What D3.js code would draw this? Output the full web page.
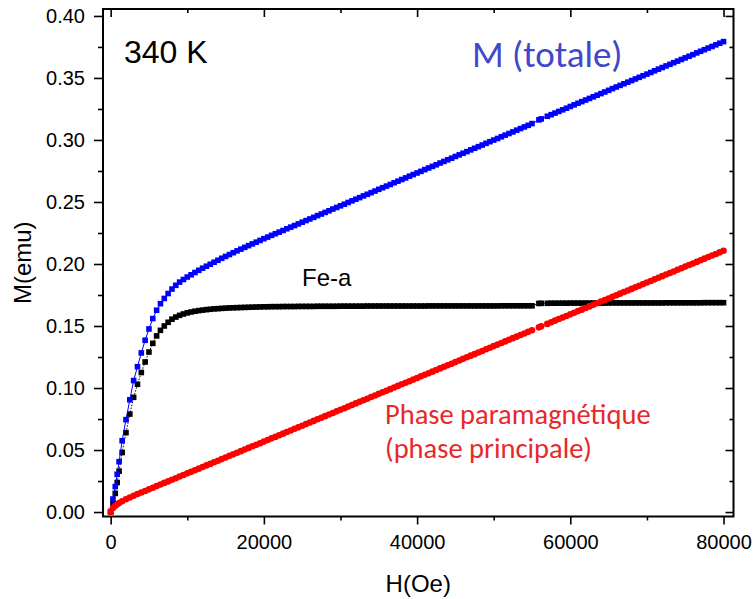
<!DOCTYPE html>
<html>
<head>
<meta charset="utf-8">
<script src="https://cdn.jsdelivr.net/npm/d3@7"></script>
<style>
body { margin: 0; background: #fff; }
</style>
</head>
<body>
<svg id="chart" width="753" height="599" viewBox="0 0 753 599"></svg>
<script>
// champ appliqué (Oe)
var fieldOe = [
	0, 300, 600, 850, 1100,
	1500, 2000, 2500, 3000, 3500, 4000, 4500, 5000, 5500, 6000, 6500, 7000, 7500, 8000, 8500, 9000, 9500,
	10000, 10500, 11000, 11500, 12000, 12500, 13000, 13500, 14000, 14500, 15000, 15500, 16000, 16500, 17000, 17500, 18000, 18500, 19000, 19500,
	20000, 20500, 21000, 21500, 22000, 22500, 23000, 23500, 24000, 24500, 25000, 25500, 26000, 26500, 27000, 27500, 28000, 28500, 29000, 29500,
	30000, 30500, 31000, 31500, 32000, 32500, 33000, 33500, 34000, 34500, 35000, 35500, 36000, 36500, 37000, 37500, 38000, 38500, 39000, 39500,
	40000, 40500, 41000, 41500, 42000, 42500, 43000, 43500, 44000, 44500, 45000, 45500, 46000, 46500, 47000, 47500, 48000, 48500, 49000, 49500,
	50000, 50500, 51000, 51500, 52000, 52500, 53000, 53500, 54000, 54500, 55000,
	55900, 56200,
	57000, 57500, 58000, 58500, 59000, 59500,
	60000, 60500, 61000, 61500, 62000, 62500, 63000, 63500, 64000, 64500, 65000, 65500, 66000, 66500, 67000, 67500, 68000, 68500, 69000, 69500,
	70000, 70500, 71000, 71500, 72000, 72500, 73000, 73500, 74000, 74500, 75000, 75500, 76000, 76500, 77000, 77500, 78000, 78500, 79000, 79500,
	80000
];

// M (totale)
var mTotale = [
	0.0005, 0.0105, 0.0205, 0.0304, 0.0406,
	0.0575, 0.0745, 0.0905, 0.1060, 0.1172, 0.1283, 0.1385, 0.1476, 0.1560, 0.1627, 0.1680, 0.1722, 0.1762, 0.1798, 0.1828, 0.1854, 0.1875,
	0.1895, 0.1913, 0.1931, 0.1949, 0.1966, 0.1982, 0.1998, 0.2014, 0.2030, 0.2046, 0.2061, 0.2076, 0.2091, 0.2106, 0.2120, 0.2134, 0.2148, 0.2162, 0.2176, 0.2190,
	0.2204, 0.2217, 0.2231, 0.2244, 0.2257, 0.2270, 0.2284, 0.2297, 0.2310, 0.2323, 0.2337, 0.2350, 0.2363, 0.2376, 0.2390, 0.2403, 0.2416, 0.2429, 0.2443, 0.2456,
	0.2469, 0.2482, 0.2496, 0.2509, 0.2522, 0.2535, 0.2549, 0.2562, 0.2575, 0.2588, 0.2602, 0.2615, 0.2628, 0.2641, 0.2655, 0.2668, 0.2681, 0.2694, 0.2708, 0.2721,
	0.2734, 0.2747, 0.2761, 0.2774, 0.2787, 0.2800, 0.2814, 0.2827, 0.2840, 0.2853, 0.2867, 0.2880, 0.2893, 0.2906, 0.2920, 0.2933, 0.2946, 0.2959, 0.2973, 0.2986,
	0.2999, 0.3012, 0.3026, 0.3039, 0.3052, 0.3065, 0.3079, 0.3092, 0.3105, 0.3118, 0.3132,
	0.3162, 0.3170,
	0.3191, 0.3204, 0.3217, 0.3230, 0.3243, 0.3256,
	0.3270, 0.3283, 0.3296, 0.3309, 0.3322, 0.3335, 0.3348, 0.3361, 0.3374, 0.3387, 0.3400, 0.3414, 0.3427, 0.3440, 0.3453, 0.3466, 0.3479, 0.3492, 0.3505, 0.3518,
	0.3531, 0.3544, 0.3558, 0.3571, 0.3584, 0.3597, 0.3610, 0.3623, 0.3636, 0.3649, 0.3662, 0.3675, 0.3688, 0.3702, 0.3715, 0.3728, 0.3741, 0.3754, 0.3767, 0.3780,
	0.3793
];

// Fe-a
var mFeA = [
	0.0000, 0.0072, 0.0150, 0.0238, 0.0330,
	0.0480, 0.0640, 0.0790, 0.0925, 0.1030, 0.1125, 0.1210, 0.1290, 0.1360, 0.1420, 0.1465, 0.1500, 0.1530, 0.1555, 0.1572, 0.1586, 0.1597,
	0.1606, 0.1613, 0.1619, 0.1624, 0.1628, 0.1632, 0.1635, 0.1638, 0.1640, 0.1642, 0.1644, 0.1646, 0.1647, 0.1648, 0.1649, 0.1650, 0.1651, 0.1652, 0.1653, 0.1654,
	0.1655, 0.1655, 0.1656, 0.1656, 0.1656, 0.1657, 0.1657, 0.1657, 0.1657, 0.1658, 0.1658, 0.1658, 0.1658, 0.1658, 0.1659, 0.1659, 0.1659, 0.1659, 0.1659, 0.1659,
	0.1660, 0.1660, 0.1660, 0.1660, 0.1660, 0.1660, 0.1660, 0.1661, 0.1661, 0.1661, 0.1661, 0.1661, 0.1661, 0.1661, 0.1661, 0.1661, 0.1661, 0.1661, 0.1661, 0.1661,
	0.1661, 0.1661, 0.1661, 0.1662, 0.1662, 0.1662, 0.1662, 0.1662, 0.1662, 0.1662, 0.1662, 0.1662, 0.1662, 0.1662, 0.1662, 0.1662, 0.1662, 0.1662, 0.1662, 0.1662,
	0.1662, 0.1662, 0.1663, 0.1663, 0.1663, 0.1663, 0.1663, 0.1663, 0.1663, 0.1663, 0.1663,
	0.1682, 0.1683,
	0.1683, 0.1684, 0.1684, 0.1684, 0.1684, 0.1684,
	0.1685, 0.1685, 0.1685, 0.1685, 0.1685, 0.1685, 0.1685, 0.1685, 0.1685, 0.1685, 0.1686, 0.1686, 0.1686, 0.1686, 0.1686, 0.1686, 0.1686, 0.1686, 0.1686, 0.1686,
	0.1686, 0.1686, 0.1686, 0.1686, 0.1686, 0.1687, 0.1687, 0.1687, 0.1687, 0.1687, 0.1687, 0.1687, 0.1687, 0.1687, 0.1687, 0.1688, 0.1688, 0.1688, 0.1688, 0.1688,
	0.1688
];

// phase paramagnétique
var mPara = [
	0.0000, 0.0033, 0.0051, 0.0063, 0.0073,
	0.0087, 0.0103, 0.0117, 0.0131, 0.0145, 0.0158, 0.0170, 0.0183, 0.0196, 0.0209, 0.0222, 0.0235, 0.0247, 0.0260, 0.0273, 0.0286, 0.0299,
	0.0312, 0.0324, 0.0337, 0.0350, 0.0363, 0.0376, 0.0388, 0.0401, 0.0414, 0.0427, 0.0440, 0.0453, 0.0465, 0.0478, 0.0491, 0.0504, 0.0517, 0.0530, 0.0542, 0.0555,
	0.0568, 0.0581, 0.0594, 0.0606, 0.0619, 0.0632, 0.0645, 0.0658, 0.0671, 0.0683, 0.0696, 0.0709, 0.0722, 0.0735, 0.0748, 0.0760, 0.0773, 0.0786, 0.0799, 0.0812,
	0.0825, 0.0837, 0.0850, 0.0863, 0.0876, 0.0889, 0.0901, 0.0914, 0.0927, 0.0940, 0.0953, 0.0966, 0.0978, 0.0991, 0.1004, 0.1017, 0.1030, 0.1043, 0.1055, 0.1068,
	0.1081, 0.1094, 0.1107, 0.1119, 0.1132, 0.1145, 0.1158, 0.1171, 0.1184, 0.1196, 0.1209, 0.1222, 0.1235, 0.1248, 0.1261, 0.1273, 0.1286, 0.1299, 0.1312, 0.1325,
	0.1338, 0.1350, 0.1363, 0.1376, 0.1389, 0.1402, 0.1414, 0.1427, 0.1440, 0.1453, 0.1466,
	0.1489, 0.1497,
	0.1517, 0.1530, 0.1543, 0.1556, 0.1568, 0.1581,
	0.1594, 0.1607, 0.1620, 0.1632, 0.1645, 0.1658, 0.1671, 0.1684, 0.1697, 0.1709, 0.1722, 0.1735, 0.1748, 0.1761, 0.1774, 0.1786, 0.1799, 0.1812, 0.1825, 0.1838,
	0.1851, 0.1863, 0.1876, 0.1889, 0.1902, 0.1915, 0.1927, 0.1940, 0.1953, 0.1966, 0.1979, 0.1992, 0.2004, 0.2017, 0.2030, 0.2043, 0.2056, 0.2069, 0.2081, 0.2094,
	0.2107
];

var xTicks = [0, 20000, 40000, 60000, 80000];
var xMinorTicks = [10000, 30000, 50000, 70000];
var yTicks = [0, 0.05, 0.10, 0.15, 0.20, 0.25, 0.30, 0.35, 0.40];
var yMinorTicks = [0.025, 0.075, 0.125, 0.175, 0.225, 0.275, 0.325, 0.375];

var svg = d3.select("#chart");
var plotLeft = 103, plotRight = 733.5, plotTop = 9, plotBottom = 516.5;

var xScale = d3.scaleLinear().domain([-1000, 81300]).range([plotLeft, plotRight]);
var yScale = d3.scaleLinear().domain([-0.0036, 0.4056]).range([plotBottom, plotTop]);

function pts(ys) {
	return fieldOe.map(function (h, i) { return [h, ys[i]]; });
}
var totale = pts(mTotale), feA = pts(mFeA), para = pts(mPara);

var axisFont = "'Liberation Sans', Arial, sans-serif";
var labelFont = "Carlito, Calibri, Lato, sans-serif";

function styleAxis(g) {
	g.select(".domain").remove();
	g.selectAll("line").attr("stroke", "#000").attr("stroke-width", 1.6);
	g.selectAll("text").attr("fill", "#000").style("font-family", axisFont).style("font-size", "20px");
}

// axe bas
svg.append("g").attr("transform", "translate(0," + plotBottom + ")")
	.call(d3.axisBottom(xScale).tickValues(xTicks).tickFormat(d3.format("d")).tickSize(8).tickSizeOuter(0).tickPadding(10))
	.call(styleAxis);
svg.append("g").attr("transform", "translate(0," + plotBottom + ")")
	.call(d3.axisBottom(xScale).tickValues(xMinorTicks).tickFormat("").tickSize(4).tickSizeOuter(0))
	.call(styleAxis);
// axe haut (graduations vers l'intérieur)
svg.append("g").attr("transform", "translate(0," + plotTop + ")")
	.call(d3.axisTop(xScale).tickValues(xTicks).tickFormat("").tickSize(-8).tickSizeOuter(0))
	.call(styleAxis);
svg.append("g").attr("transform", "translate(0," + plotTop + ")")
	.call(d3.axisTop(xScale).tickValues(xMinorTicks).tickFormat("").tickSize(-4).tickSizeOuter(0))
	.call(styleAxis);
// axe gauche
svg.append("g").attr("transform", "translate(" + plotLeft + ",0)")
	.call(d3.axisLeft(yScale).tickValues(yTicks).tickFormat(d3.format(".2f")).tickSize(9).tickSizeOuter(0).tickPadding(9))
	.call(styleAxis);
svg.append("g").attr("transform", "translate(" + plotLeft + ",0)")
	.call(d3.axisLeft(yScale).tickValues(yMinorTicks).tickFormat("").tickSize(5).tickSizeOuter(0))
	.call(styleAxis);
// axe droit
svg.append("g").attr("transform", "translate(" + plotRight + ",0)")
	.call(d3.axisRight(yScale).tickValues(yTicks).tickFormat("").tickSize(-8).tickSizeOuter(0))
	.call(styleAxis);
svg.append("g").attr("transform", "translate(" + plotRight + ",0)")
	.call(d3.axisRight(yScale).tickValues(yMinorTicks).tickFormat("").tickSize(-4).tickSizeOuter(0))
	.call(styleAxis);

svg.append("rect")
	.attr("x", plotLeft).attr("y", plotTop)
	.attr("width", plotRight - plotLeft).attr("height", plotBottom - plotTop)
	.attr("fill", "none").attr("stroke", "#000").attr("stroke-width", 2);

var line = d3.line()
	.x(function (d) { return xScale(d[0]); })
	.y(function (d) { return yScale(d[1]); });

var sq = 5.6;

// Fe-a : carrés noirs
svg.append("path").attr("d", line(feA)).attr("fill", "none")
	.attr("stroke", "#000").attr("stroke-width", 1).attr("stroke-dasharray", "1.5,1.5");
svg.append("g").selectAll("rect").data(feA).enter().append("rect")
	.attr("x", function (d) { return xScale(d[0]) - sq / 2; })
	.attr("y", function (d) { return yScale(d[1]) - sq / 2; })
	.attr("width", sq).attr("height", sq).attr("fill", "#000");

// M totale : carrés bleus
svg.append("path").attr("d", line(totale)).attr("fill", "none")
	.attr("stroke", "#0000ff").attr("stroke-width", 1);
svg.append("g").selectAll("rect").data(totale).enter().append("rect")
	.attr("x", function (d) { return xScale(d[0]) - sq / 2; })
	.attr("y", function (d) { return yScale(d[1]) - sq / 2; })
	.attr("width", sq).attr("height", sq).attr("fill", "#0000ff");

// phase paramagnétique : ronds rouges
svg.append("g").selectAll("circle").data(para).enter().append("circle")
	.attr("cx", function (d) { return xScale(d[0]); })
	.attr("cy", function (d) { return yScale(d[1]); })
	.attr("r", 3.3).attr("fill", "#ff0000");

// textes
svg.append("text").attr("x", 124).attr("y", 63).text("340 K")
	.style("font-family", axisFont).style("font-size", "32px").attr("fill", "#000");
svg.append("text").attr("x", 472).attr("y", 67).text("M (totale)")
	.style("font-family", labelFont).style("font-size", "37px").attr("fill", "#3f48cc");
svg.append("text").attr("x", 302).attr("y", 286).text("Fe-a")
	.style("font-family", axisFont).style("font-size", "24px").attr("fill", "#000");
svg.append("text").attr("x", 385).attr("y", 424).text("Phase paramagnétique")
	.style("font-family", labelFont).style("font-size", "28.5px").attr("fill", "#e8282b");
svg.append("text").attr("x", 385).attr("y", 458).text("(phase principale)")
	.style("font-family", labelFont).style("font-size", "28.5px").attr("fill", "#e8282b");

svg.append("text").attr("x", (plotLeft + plotRight) / 2).attr("y", 592)
	.attr("text-anchor", "middle").text("H(Oe)")
	.style("font-family", axisFont).style("font-size", "24px").attr("fill", "#000");
svg.append("text").attr("transform", "translate(31," + ((plotTop + plotBottom) / 2) + ") rotate(-90)")
	.attr("text-anchor", "middle").text("M(emu)")
	.style("font-family", axisFont).style("font-size", "24px").attr("fill", "#000");
</script>
</body>
</html>
